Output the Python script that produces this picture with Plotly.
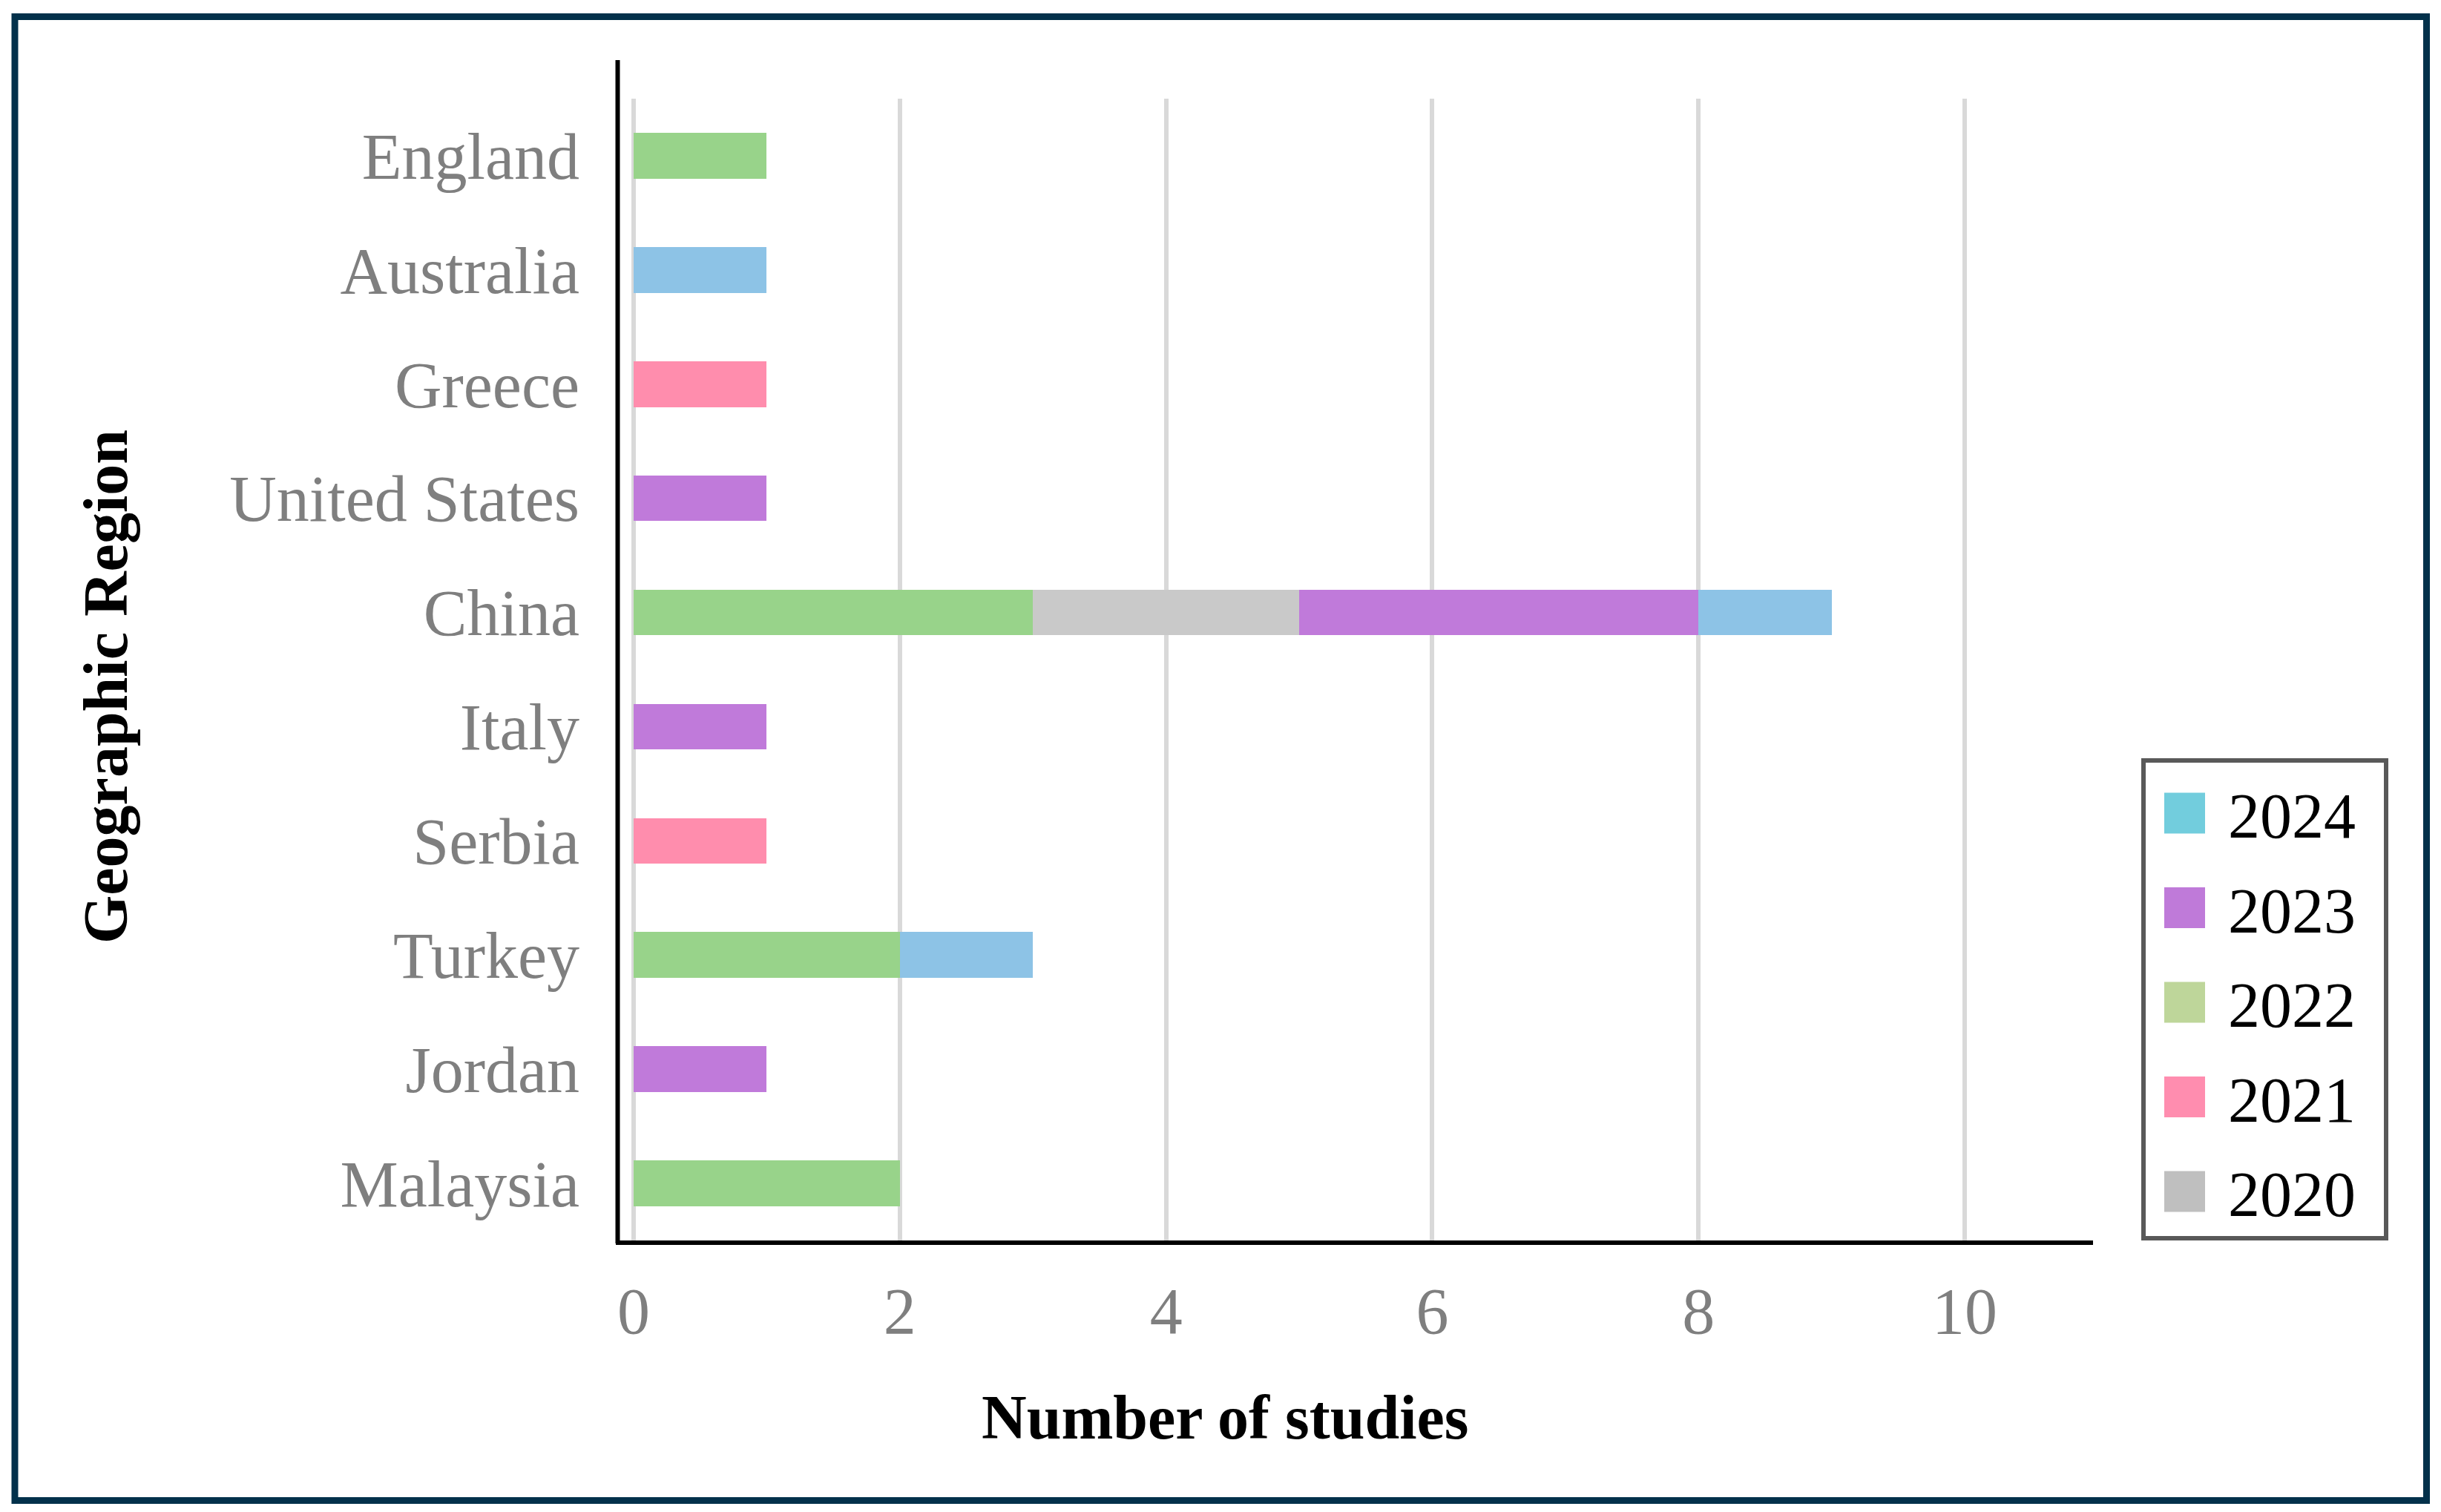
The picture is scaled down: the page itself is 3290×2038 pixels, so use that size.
import plotly.graph_objects as go

# ---- data ----
regions = ["England", "Australia", "Greece", "United States", "China",
           "Italy", "Serbia", "Turkey", "Jordan", "Malaysia"]
y2020 = [0, 0, 0, 0, 2, 0, 0, 0, 0, 0]
y2021 = [0, 0, 1, 0, 0, 0, 1, 0, 0, 0]
y2022 = [1, 0, 0, 0, 3, 0, 0, 2, 0, 2]
y2023 = [0, 0, 0, 1, 3, 1, 0, 0, 1, 0]
y2024 = [0, 1, 0, 0, 1, 0, 0, 1, 0, 0]
x_ticks = [0, 2, 4, 6, 8, 10]

# stacking order (left to right in bars)
stack_order = ["2022", "2021", "2020", "2023", "2024"]
series = {"2020": y2020, "2021": y2021, "2022": y2022, "2023": y2023, "2024": y2024}
bar_colors = {"2020": "#C9C9C9", "2021": "#FF8DAD", "2022": "#98D38A",
              "2023": "#C07ADA", "2024": "#8DC3E6"}
legend_years = ["2024", "2023", "2022", "2021", "2020"]
legend_colors = {"2020": "#BFBFBF", "2021": "#FF8DAF", "2022": "#BED69A",
                 "2023": "#BF7AD9", "2024": "#72CDDD"}

# ---- layout geometry (page pixels) ----
OFF = 8  # default page body margin
PW, PH = 3290, 2038
W, H = PW - OFF, PH - OFF
L, R, T, B = 830, 2821, 133, 1672
FONT = "Liberation Serif"


def px_x(p):
    return (p - L) / (R - L)


def px_y(p):
    return (B - p) / (B - T)


fig = go.Figure()
for yr in stack_order:
    fig.add_trace(go.Bar(
        y=regions, x=series[yr], orientation="h", name=yr,
        marker=dict(color=bar_colors[yr], line=dict(width=0)),
        showlegend=False,
    ))

shapes = []
annotations = []

# outer navy frame
shapes.append(dict(type="rect", xref="paper", yref="paper",
                   x0=px_x(20), x1=px_x(3270.5), y0=px_y(2022.5), y1=px_y(22.5),
                   line=dict(color="#03314B", width=9), fillcolor="rgba(0,0,0,0)"))
# y axis line (extends above plot area)
shapes.append(dict(type="line", xref="paper", yref="paper",
                   x0=px_x(832.5), x1=px_x(832.5), y0=px_y(1676), y1=px_y(81),
                   line=dict(color="black", width=6)))

# manual legend
shapes.append(dict(type="rect", xref="paper", yref="paper",
                   x0=px_x(2889), x1=px_x(3216), y0=px_y(1669), y1=px_y(1025),
                   line=dict(color="#595959", width=6), fillcolor="white"))
for i, yr in enumerate(legend_years):
    cy = 1096 + i * 127.5
    shapes.append(dict(type="rect", xref="paper", yref="paper",
                       x0=px_x(2917), x1=px_x(2972), y0=px_y(cy + 27.5), y1=px_y(cy - 27.5),
                       line=dict(width=0), fillcolor=legend_colors[yr]))
    annotations.append(dict(text=yr, xref="paper", yref="paper",
                            x=px_x(3001), y=px_y(cy + 4), xanchor="left", yanchor="middle",
                            showarrow=False, font=dict(family=FONT, size=86, color="black")))

# axis titles
annotations.append(dict(text="<b>Number of studies</b>", xref="paper", yref="paper",
                        x=px_x(1651), y=px_y(1910), xanchor="center", yanchor="middle",
                        showarrow=False, font=dict(family=FONT, size=84, color="black")))
annotations.append(dict(text="<b>Geographic Region</b>", xref="paper", yref="paper",
                        x=px_x(142), y=px_y(926), xanchor="center", yanchor="middle",
                        textangle=-90, showarrow=False,
                        font=dict(family=FONT, size=84, color="black")))

fig.update_layout(
    width=W, height=H,
    margin=dict(l=L - OFF, r=W - (R - OFF), t=T - OFF, b=H - (B - OFF), pad=0),
    barmode="stack", bargap=0.6,
    plot_bgcolor="white", paper_bgcolor="white",
    font=dict(family=FONT, color="#7F7F7F"),
    shapes=shapes, annotations=annotations,
    showlegend=False,
)
fig.update_xaxes(
    range=[-0.134, 10.964], tickvals=x_ticks, ticktext=[str(v) for v in x_ticks],
    showgrid=True, gridcolor="#D9D9D9", gridwidth=6, zeroline=False,
    showline=True, linecolor="black", linewidth=6,
    ticks="", ticklabelstandoff=13,
    tickfont=dict(family=FONT, size=88, color="#7F7F7F"),
)
fig.update_yaxes(
    categoryorder="array", categoryarray=regions, range=[9.5, -0.5],
    showgrid=False, zeroline=False, showline=False, ticks="",
    ticklabelstandoff=48,
    tickfont=dict(family=FONT, size=88, color="#7F7F7F"),
)

fig.write_html("out.html")
